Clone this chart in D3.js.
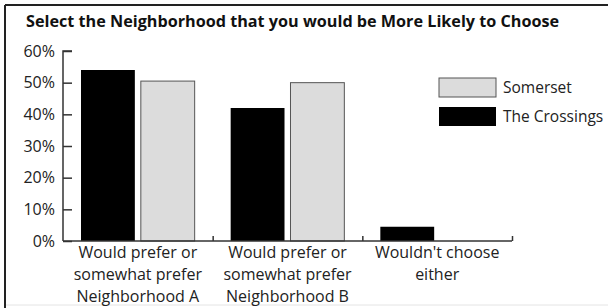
<!DOCTYPE html>
<html>
<head>
<meta charset="utf-8">
<script src="https://cdn.jsdelivr.net/npm/d3@7"></script>
<style>
  body { margin: 0; background: #fff; }
  svg { display: block; font-family: "Open Sans", "Noto Sans", sans-serif; }
</style>
</head>
<body>
<svg id="chart"></svg>
<script>
const categories = [
  ["Would prefer or", "somewhat prefer", "Neighborhood A"],
  ["Would prefer or", "somewhat prefer", "Neighborhood B"],
  ["Wouldn't choose", "either"]
];
const seriesNames = ["The Crossings", "Somerset"];
const crossingsValues = [54, 42, 4.5];
const somersetValues = [50.5, 50, null];
const yTicks = [0, 10, 20, 30, 40, 50, 60];

const width = 608;
const height = 308;
const margin = { top: 51, left: 63, bottom: 67, right: 96 };
const chartWidth = width - margin.left - margin.right;
const chartHeight = height - margin.top - margin.bottom;

const colors = { "The Crossings": "#000", "Somerset": "#dcdcdc" };
const textColor = "#222";

const svg = d3.select("#chart").attr("width", width).attr("height", height);

// frame: top and left rules
svg.append("line").attr("x1", 5).attr("x2", width).attr("y1", 5).attr("y2", 5)
  .attr("stroke", "#222").attr("stroke-width", 2);
svg.append("line").attr("x1", 5).attr("x2", 5).attr("y1", 5).attr("y2", height)
  .attr("stroke", "#222").attr("stroke-width", 2);
svg.append("line").attr("x1", 6).attr("x2", width).attr("y1", 305).attr("y2", 305)
  .attr("stroke", "#e4e4e4").attr("stroke-width", 1);

svg.append("text")
  .attr("x", 26)
  .attr("y", 27)
  .style("font-weight", "700")
  .style("font-size", "16.2px")
  .style("fill", "#111")
  .text("Select the Neighborhood that you would be More Likely to Choose");

const chart = svg.append("g")
  .attr("transform", "translate(" + margin.left + "," + margin.top + ")");

const x0 = d3.scaleBand()
  .domain(d3.range(categories.length))
  .range([0, chartWidth])
  .paddingInner(0)
  .paddingOuter(0);

const x1 = d3.scaleBand()
  .domain(seriesNames)
  .range([18, x0.bandwidth() - 18])
  .paddingInner(0.1);

const y = d3.scaleLinear().domain([0, 60]).range([chartHeight, 0]);

const rows = categories.map(function (c, i) {
  return [
    { cat: i, name: "The Crossings", value: crossingsValues[i] },
    { cat: i, name: "Somerset", value: somersetValues[i] }
  ];
});

chart.selectAll(".group")
  .data(rows)
  .enter()
  .append("g")
  .attr("class", "group")
  .attr("transform", function (d, i) {
    return "translate(" + x0(i) + ",0)";
  })
  .selectAll("rect")
  .data(function (d) {
    return d.filter(function (b) { return b.value != null; });
  })
  .enter()
  .append("rect")
  .attr("x", function (d) { return x1(d.name); })
  .attr("y", function (d) { return y(d.value); })
  .attr("width", x1.bandwidth())
  .attr("height", function (d) { return chartHeight - y(d.value); })
  .attr("fill", function (d) { return colors[d.name]; })
  .attr("stroke", function (d) { return d.name === "Somerset" ? "#555" : "none"; })
  .attr("stroke-width", 1);

// y axis, ticks pointing into the plot
const yAxis = chart.append("g")
  .call(d3.axisRight(y).tickValues(yTicks).tickSize(9).tickFormat(function (d) { return d + "%"; }));
yAxis.selectAll("path, line").attr("stroke", "#333").attr("stroke-width", 1.5);
yAxis.select(".domain").attr("d", "M9,0H0V" + chartHeight);
yAxis.selectAll("text")
  .attr("x", -8)
  .attr("text-anchor", "end")
  .style("font-size", "16px")
  .style("fill", textColor)
  .style("font-family", "\"Open Sans\", sans-serif");

// x axis with upward ticks between groups
const xBound = d3.scaleLinear().domain([0, categories.length]).range([0, chartWidth]);
const xAxis = chart.append("g")
  .attr("transform", "translate(0," + chartHeight + ")")
  .call(d3.axisTop(xBound).tickValues([1, 2, 3]).tickSize(5).tickSizeOuter(0).tickFormat(""));
xAxis.selectAll("path, line").attr("stroke", "#333").attr("stroke-width", 1.5);
xAxis.select(".domain").attr("d", "M0,0H" + chartWidth);

chart.selectAll(".xlabel")
  .data(categories)
  .enter()
  .append("text")
  .attr("class", "xlabel")
  .attr("text-anchor", "middle")
  .attr("transform", function (d, i) {
    return "translate(" + (x0(i) + x0.bandwidth() / 2) + "," + (chartHeight + 17) + ")";
  })
  .style("font-size", "16px")
  .style("fill", textColor)
  .selectAll("tspan")
  .data(function (d) { return d; })
  .enter()
  .append("tspan")
  .attr("x", 0)
  .attr("dy", function (d, i) { return i === 0 ? 0 : 22; })
  .text(function (d) { return d; });

// legend
const legendOrder = ["Somerset", "The Crossings"];
const legend = svg.append("g").attr("transform", "translate(439,78)");
const item = legend.selectAll(".item")
  .data(legendOrder)
  .enter()
  .append("g")
  .attr("class", "item")
  .attr("transform", function (d, i) { return "translate(0," + i * 29 + ")"; });
item.append("rect")
  .attr("width", 57)
  .attr("height", 19)
  .attr("fill", function (d) { return colors[d]; })
  .attr("stroke", function (d) { return d === "Somerset" ? "#555" : "none"; });
item.append("text")
  .attr("x", 64)
  .attr("y", 15)
  .style("font-size", "15.5px")
  .style("fill", textColor)
  .text(function (d) { return d; });
</script>
</body>
</html>
